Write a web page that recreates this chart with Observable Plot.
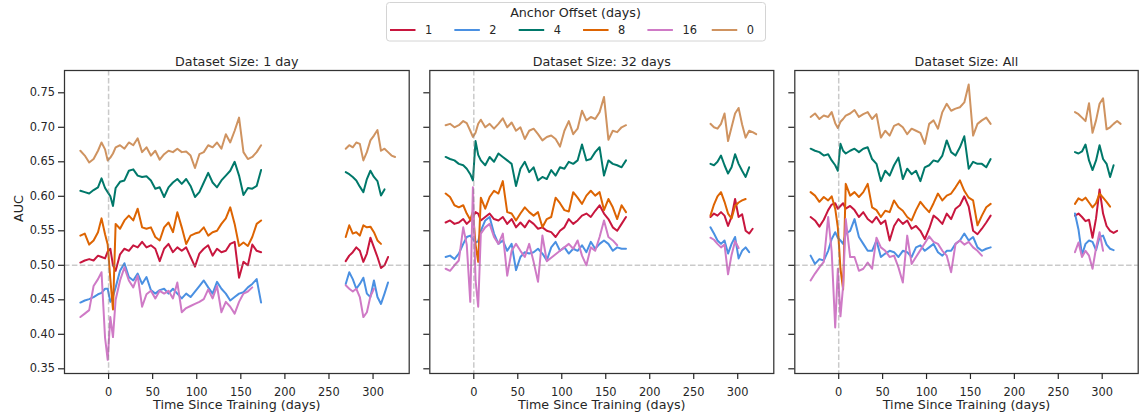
<!DOCTYPE html>
<html>
<head>
<meta charset="utf-8">
<script src="https://cdn.jsdelivr.net/npm/d3@7"></script>
<script src="https://cdn.jsdelivr.net/npm/@observablehq/plot@0.6"></script>
<style>
  html, body { margin: 0; padding: 0; background: #fff; }
  #chart { position: relative; width: 1139px; height: 419px; overflow: hidden; }
  #chart svg { position: absolute; top: 0; }
</style>
</head>
<body>
<div id="chart"></div>
<script>
// Anchor offsets (days) in draw order, with their colours
const offsets = [1, 2, 4, 8, 16, 0];
const offsetColors = ["#c8163e", "#4a90e2", "#00786a", "#dd6402", "#cf7ac6", "#cf9360"];

const panelTitles = ["Dataset Size: 1 day", "Dataset Size: 32 days", "Dataset Size: All"];
const legendTitle = "Anchor Offset (days)";
const xLabel = "Time Since Training (days)";
const yLabel = "AUC";
const xTicks = [0, 50, 100, 150, 200, 250, 300];
const yTicks = [0.35, 0.40, 0.45, 0.50, 0.55, 0.60, 0.65, 0.70, 0.75];

// Evaluation days: the window around training, and the later window
const daysEarly = [-32, -27, -22, -17, -12, -8, -4, -1, 2, 5, 8, 13, 18, 23, 28, 33, 38, 43, 48, 53, 58, 63, 68, 73, 78, 83, 88, 93, 98, 103, 108, 113, 118, 123, 128, 133, 138, 143, 148, 153, 158, 163, 168, 173];
const daysLate = [269, 273, 277, 281, 285, 289, 293, 297, 301, 305, 309, 313, 317, 321, 325];

// ---- Dataset size: 1 day ----
const d1_o1_early = [.504,.507,.509,.507,.514,.512,.510,.520,.524,.500,.492,.516,.524,.521,.529,.526,.534,.526,.529,.524,.506,.524,.531,.519,.526,.521,.526,.512,.498,.517,.524,.529,.514,.524,.519,.521,.531,.534,.482,.505,.500,.530,.521,.519];
const d1_o1_late = [.506,.514,.519,.526,.521,.505,.517,.540,.526,.512,.496,.500,.512];
const d1_o2_early = [.446,.449,.451,.454,.458,.460,.466,.466,.447,.455,.468,.492,.503,.483,.478,.488,.473,.483,.464,.459,.464,.466,.459,.466,.459,.452,.459,.454,.462,.470,.478,.468,.459,.476,.466,.459,.449,.454,.459,.461,.468,.473,.480,.446];
const d1_o2_late = [.473,.490,.480,.466,.473,.482,.459,.454,.478,.454,.444,.459,.475];
const d1_o4_early = [.608,.606,.604,.609,.613,.626,.612,.606,.600,.586,.612,.621,.623,.637,.639,.630,.628,.629,.623,.611,.613,.599,.613,.620,.625,.618,.625,.615,.599,.606,.620,.634,.620,.613,.623,.630,.637,.650,.630,.602,.612,.611,.615,.638];
const d1_o4_late = [.635,.632,.628,.623,.614,.606,.625,.637,.628,.622,.601,.610];
const d1_o8_early = [.543,.546,.530,.536,.548,.568,.545,.530,.480,.436,.560,.553,.565,.572,.565,.582,.555,.553,.555,.541,.536,.555,.562,.548,.577,.555,.531,.543,.546,.548,.555,.543,.548,.550,.560,.568,.584,.560,.528,.533,.528,.541,.560,.565];
const d1_o8_late = [.541,.558,.546,.548,.543,.558,.555,.556,.548,.536,.531];
const d1_o16_early = [.425,.430,.435,.470,.480,.490,.395,.363,.425,.396,.450,.478,.497,.478,.468,.485,.440,.458,.463,.452,.463,.459,.463,.452,.475,.432,.438,.441,.444,.447,.451,.465,.452,.470,.432,.447,.440,.430,.447,.459,.462,.468];
const d1_o16_late = [.471,.466,.462,.466,.454,.425,.432,.455,.466];
const d1_o0_early = [.666,.659,.649,.654,.666,.678,.668,.652,.656,.662,.671,.674,.669,.678,.674,.684,.664,.671,.659,.666,.653,.661,.666,.664,.669,.664,.665,.659,.641,.661,.664,.674,.671,.678,.669,.690,.678,.695,.714,.664,.654,.657,.664,.674];
const d1_o0_late = [.669,.674,.671,.678,.676,.652,.664,.681,.688,.696,.666,.669,.664,.659,.657];

// ---- Dataset size: 32 days ----
const d32_o1_early = [.562,.565,.560,.562,.567,.560,.565,.570,.577,.575,.565,.570,.575,.567,.565,.570,.560,.567,.555,.562,.555,.565,.560,.553,.555,.550,.548,.541,.550,.555,.567,.560,.565,.572,.575,.570,.579,.587,.575,.567,.555,.550,.560,.570];
const d32_o1_late = [.570,.575,.572,.577,.572,.557,.570,.596,.570,.574,.550,.546,.553];
const d32_o2_early = [.512,.514,.509,.517,.531,.541,.543,.538,.533,.535,.550,.565,.570,.546,.531,.536,.521,.531,.493,.512,.519,.517,.519,.524,.517,.507,.526,.534,.521,.526,.517,.524,.521,.529,.519,.534,.524,.531,.536,.531,.521,.526,.524,.524];
const d32_o2_late = [.555,.546,.536,.531,.536,.517,.531,.541,.510,.521,.526,.519];
const d32_o4_early = [.657,.654,.652,.647,.645,.640,.632,.623,.680,.660,.652,.645,.657,.650,.662,.657,.652,.647,.615,.640,.650,.635,.642,.623,.628,.625,.638,.630,.642,.640,.650,.647,.652,.675,.652,.654,.664,.671,.630,.652,.647,.645,.642,.652];
const d32_o4_late = [.647,.645,.650,.659,.645,.633,.642,.661,.647,.637,.628,.642];
const d32_o8_early = [.604,.599,.587,.584,.587,.575,.566,.578,.530,.505,.598,.582,.599,.608,.604,.622,.577,.575,.565,.575,.584,.577,.572,.577,.555,.567,.570,.598,.590,.580,.578,.606,.598,.589,.601,.608,.601,.606,.580,.596,.584,.567,.587,.577];
const d32_o8_late = [.572,.588,.600,.606,.592,.575,.568,.586,.591,.594,.596];
const d32_o16_early = [.495,.492,.500,.507,.555,.530,.447,.613,.478,.440,.546,.555,.560,.541,.531,.546,.485,.521,.531,.521,.512,.531,.505,.476,.543,.506,.511,.516,.521,.526,.531,.524,.536,.514,.500,.526,.521,.541,.565,.541,.536,.529];
const d32_o16_late = [.540,.537,.531,.526,.530,.487,.515,.535,.525];
const d32_o0_early = [.703,.705,.700,.703,.709,.706,.695,.686,.692,.705,.711,.700,.705,.698,.705,.713,.700,.707,.695,.700,.683,.695,.698,.690,.681,.686,.688,.683,.672,.695,.709,.690,.698,.724,.710,.715,.712,.722,.744,.682,.695,.693,.700,.703];
const d32_o0_late = [.705,.700,.698,.705,.720,.680,.700,.720,.728,.704,.685,.695,.693,.690];

// ---- Dataset size: All ----
const all_o1_early = [.570,.565,.556,.566,.580,.588,.590,.582,.586,.590,.582,.586,.580,.570,.577,.567,.562,.570,.560,.565,.536,.557,.567,.560,.565,.553,.557,.550,.538,.553,.572,.567,.560,.575,.567,.582,.587,.600,.585,.550,.545,.553,.562,.572];
const all_o1_late = [.572,.575,.570,.564,.566,.540,.568,.610,.575,.557,.550,.547,.550];
const all_o2_early = [.514,.502,.509,.507,.521,.538,.548,.540,.536,.531,.546,.550,.567,.541,.531,.521,.521,.536,.512,.517,.521,.519,.512,.521,.519,.512,.526,.529,.521,.526,.531,.519,.514,.521,.521,.531,.536,.546,.536,.541,.526,.521,.524,.526];
const all_o2_late = [.575,.552,.515,.531,.536,.534,.522,.541,.543,.530,.524,.522];
const all_o4_early = [.669,.666,.664,.659,.661,.652,.645,.637,.676,.666,.662,.666,.669,.664,.669,.671,.654,.647,.622,.637,.630,.645,.656,.625,.640,.632,.637,.622,.642,.645,.652,.650,.659,.681,.664,.659,.671,.687,.640,.650,.647,.647,.642,.654];
const all_o4_late = [.664,.662,.665,.675,.652,.638,.652,.674,.654,.647,.628,.645];
const all_o8_early = [.606,.601,.592,.599,.594,.600,.582,.555,.495,.465,.618,.601,.606,.599,.606,.618,.584,.580,.570,.579,.577,.594,.584,.579,.570,.565,.580,.592,.584,.577,.590,.604,.594,.601,.604,.613,.623,.608,.598,.594,.558,.572,.584,.589];
const all_o8_late = [.589,.597,.594,.598,.591,.584,.590,.604,.598,.592,.585];
const all_o16_early = [.478,.488,.497,.505,.570,.520,.410,.495,.426,.470,.567,.512,.512,.492,.495,.504,.495,.540,.526,.521,.512,.514,.497,.475,.543,.502,.512,.522,.532,.542,.534,.531,.521,.514,.490,.531,.536,.530,.534,.526,.521,.514];
const all_o16_late = [.519,.533,.512,.521,.514,.495,.525,.548,.521];
const all_o0_early = [.715,.720,.712,.717,.715,.722,.706,.699,.708,.712,.717,.720,.725,.715,.719,.722,.712,.719,.685,.695,.688,.702,.705,.700,.690,.698,.695,.692,.676,.705,.710,.698,.722,.734,.724,.727,.729,.736,.762,.688,.705,.710,.714,.705];
const all_o0_late = [.722,.719,.714,.709,.735,.692,.710,.734,.742,.697,.700,.705,.709,.705];

// Series per panel: [offset, early window, late window]
const panelSeries = [
  [[1, d1_o1_early, d1_o1_late], [2, d1_o2_early, d1_o2_late], [4, d1_o4_early, d1_o4_late],
   [8, d1_o8_early, d1_o8_late], [16, d1_o16_early, d1_o16_late], [0, d1_o0_early, d1_o0_late]],
  [[1, d32_o1_early, d32_o1_late], [2, d32_o2_early, d32_o2_late], [4, d32_o4_early, d32_o4_late],
   [8, d32_o8_early, d32_o8_late], [16, d32_o16_early, d32_o16_late], [0, d32_o0_early, d32_o0_late]],
  [[1, all_o1_early, all_o1_late], [2, all_o2_early, all_o2_late], [4, all_o4_early, all_o4_late],
   [8, all_o8_early, all_o8_late], [16, all_o16_early, all_o16_late], [0, all_o0_early, all_o0_late]]
];

// Panel placement (left edge of each svg, its width and left margin)
const panelLeft = [0, 410, 774];
const panelWidth = [410, 364.6, 365];
const panelMarginLeft = [64, 19.3, 20.3];

const ink = "#262626";
const chart = document.getElementById("chart");

function drawPanel(k) {
  const rows = [];
  for (const [off, early, late] of panelSeries[k]) {
    early.forEach((auc, i) => rows.push({off, seg: "early", day: daysEarly[i], auc}));
    late.forEach((auc, i) => rows.push({off, seg: "late", day: daysLate[i], auc}));
  }
  const first = k === 0;
  const refLine = {stroke: "#808080", strokeOpacity: 0.42, strokeWidth: 1.5, strokeDasharray: "5.5,2.4"};
  const svg = Plot.plot({
    width: panelWidth[k],
    height: 419,
    marginLeft: panelMarginLeft[k],
    marginRight: 1.3,
    marginTop: 70,
    marginBottom: 46,
    x: {domain: [-50, 341]},
    y: {domain: [0.3432, 0.7823]},
    color: {type: "ordinal", domain: offsets, range: offsetColors},
    style: {fontFamily: "'DejaVu Sans', sans-serif", fontSize: "11.4px", color: ink, background: "transparent", overflow: "visible"},
    marks: [
      ...offsets.map(o => Plot.line(rows.filter(d => d.off === o), {
        x: "day", y: "auc", z: "seg", stroke: "off", strokeWidth: 2
      })),
      Plot.ruleX([0], refLine),
      Plot.ruleY([0.5], refLine),
      Plot.frame({stroke: "#333", strokeWidth: 1.25}),
      Plot.axisX({ticks: xTicks, tickSize: 6, tickPadding: 8, tickFormat: d3.format("d"), strokeWidth: 1.2, label: null}),
      Plot.axisY({ticks: yTicks, tickSize: 6, tickPadding: 3.5, strokeWidth: 1.2,
                  tickFormat: first ? d3.format(".2f") : () => "", label: null}),
      Plot.text([panelTitles[k]], {text: d => d, frameAnchor: "top", lineAnchor: "middle", dy: -9, fontSize: 12.7, fill: ink}),
      Plot.text([xLabel], {text: d => d, frameAnchor: "bottom", lineAnchor: "middle", dy: 31, fontSize: 12.7, fill: ink}),
      first ? Plot.text([yLabel], {text: d => d, frameAnchor: "left", lineAnchor: "middle", dx: -45.4, rotate: -90, fontSize: 12.7, fill: ink}) : null
    ]
  });
  svg.style.left = panelLeft[k] + "px";
  chart.appendChild(svg);
}

[0, 1, 2].forEach(drawPanel);

// Shared legend above the middle panel
const legend = d3.create("svg")
  .attr("width", 1139).attr("height", 44)
  .style("left", "0px")
  .attr("font-family", "'DejaVu Sans', sans-serif");
legend.append("rect")
  .attr("x", 386.5).attr("y", 2.5).attr("width", 379).attr("height", 38.5).attr("rx", 3)
  .attr("fill", "white").attr("fill-opacity", 0.8).attr("stroke", "#d4d4d4");
legend.append("text")
  .attr("x", 575.5).attr("y", 16.6).attr("text-anchor", "middle")
  .attr("font-size", 12.7).attr("fill", ink).text(legendTitle);
offsets.forEach((o, i) => {
  const x0 = 390 + i * 64.35;
  legend.append("line")
    .attr("x1", x0).attr("x2", x0 + 25.5).attr("y1", 30).attr("y2", 30)
    .attr("stroke", offsetColors[i]).attr("stroke-width", 2);
  legend.append("text")
    .attr("x", x0 + 35).attr("y", 34.3)
    .attr("font-size", 11.4).attr("fill", ink).text(String(o));
});
chart.appendChild(legend.node());
</script>
</body>
</html>
